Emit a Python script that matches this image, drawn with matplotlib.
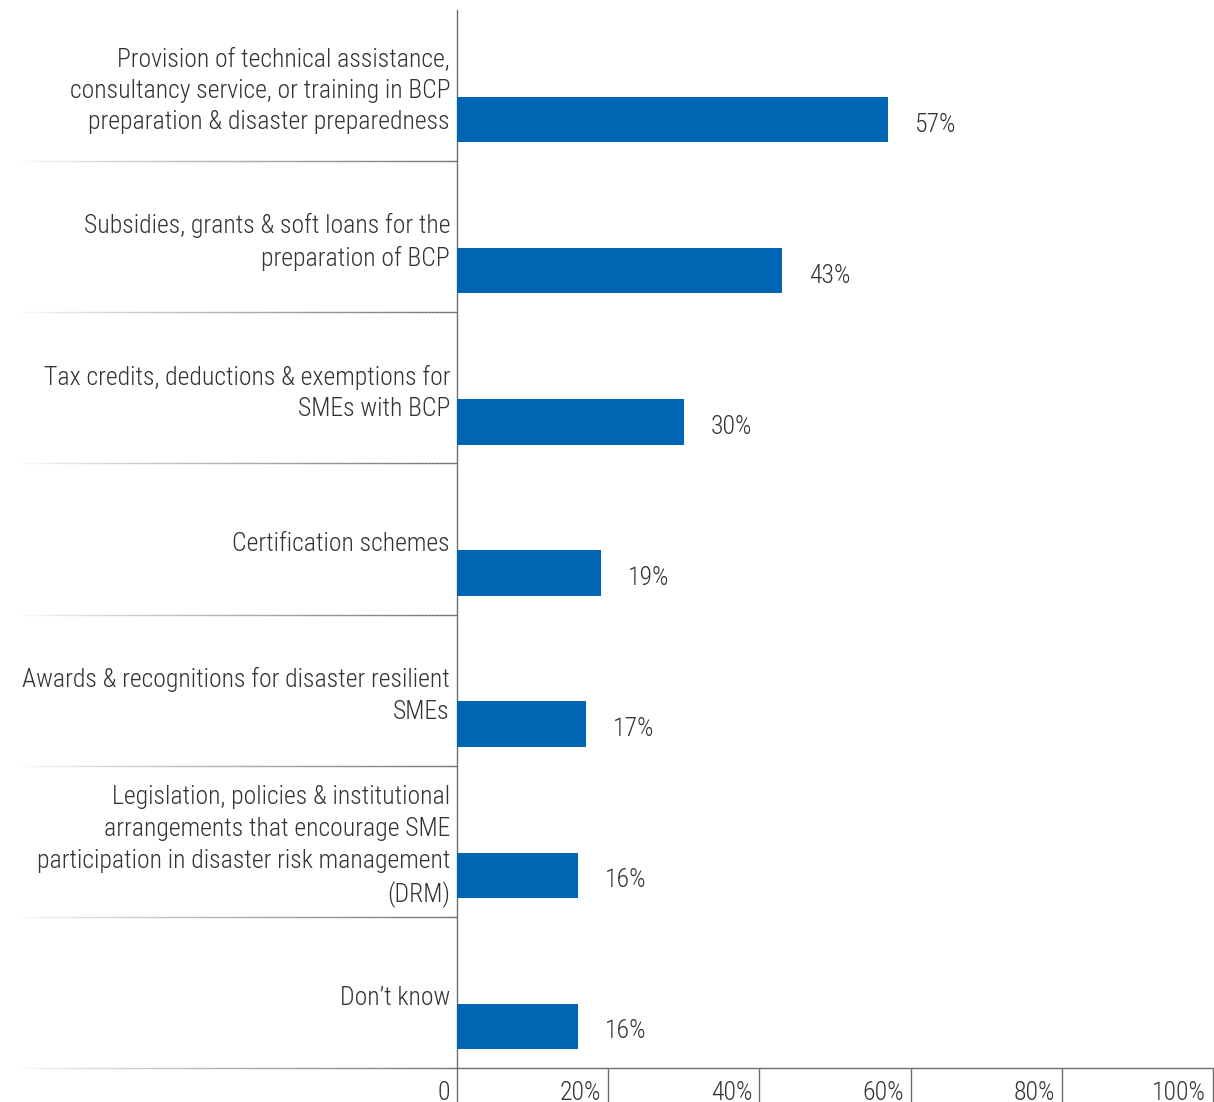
import matplotlib
matplotlib.use("Agg")
import matplotlib.pyplot as plt
from matplotlib import font_manager, transforms
from matplotlib.collections import LineCollection
import numpy as np

categories = [
    "Provision of technical assistance,\nconsultancy service, or training in BCP\npreparation & disaster preparedness",
    "Subsidies, grants & soft loans for the\npreparation of BCP",
    "Tax credits, deductions & exemptions for\nSMEs with BCP",
    "Certification schemes",
    "Awards & recognitions for disaster resilient\nSMEs",
    "Legislation, policies & institutional\narrangements that encourage SME\nparticipation in disaster risk management\n(DRM)",
    "Don\u2019t know",
]
values = [57, 43, 30, 19, 17, 16, 16]
tick_values = [0, 20, 40, 60, 80, 100]
tick_labels = ["0", "20%", "40%", "60%", "80%", "100%"]

avail = {f.name for f in font_manager.fontManager.ttflist}
family = "DejaVu Sans"
for cand in ["Roboto Condensed", "Liberation Sans Narrow", "Open Sans Condensed", "Roboto", "Lato"]:
    if cand in avail:
        family = cand
        break
plt.rcParams["font.family"] = [family, "DejaVu Sans"]

W, H, DPI = 1214, 1102, 100
fig = plt.figure(figsize=(W / DPI, H / DPI), dpi=DPI)
fig.patch.set_facecolor("white")

ax_left, ax_right, ax_top, ax_bottom = 457, 1213, 10, 1068
ax = fig.add_axes([ax_left / W, (H - ax_bottom) / H, (ax_right - ax_left) / W, (ax_bottom - ax_top) / H])

bar_color = "#0066b3"
text_color = "#333333"
line_color = "#6e6e6e"
fs = 18.5
fw = "light"

n = len(categories)
ypos = np.arange(n)
ax.barh(ypos + 0.725, values, height=0.30, color=bar_color, zorder=3)
ax.set_xlim(0, 100)
ax.set_ylim(n, 0)

for s in ["top", "right", "bottom"]:
    ax.spines[s].set_visible(False)
ax.spines["left"].set_color(line_color)
ax.spines["left"].set_linewidth(1.0)
ax.set_yticks([])
ax.set_xticks(tick_values)
ax.set_xticklabels([])
ax.tick_params(axis="x", direction="out", length=34 * 72 / DPI, width=1.0, color=line_color)

# category labels
for i, lab in enumerate(categories):
    ax.text(-7 * 100 / (ax_right - ax_left), i + 0.535, lab, ha="right", va="center",
            fontsize=fs, fontweight=fw, color=text_color, linespacing=1.4, clip_on=False)

# value labels
for i, v in enumerate(values):
    ax.annotate(f"{v}%", xy=(v, i + 0.725), xytext=(27 * 72 / DPI, -5 * 72 / DPI),
                textcoords="offset points", ha="left", va="center",
                fontsize=fs, fontweight=fw, color=text_color)

# tick labels
btrans = transforms.blended_transform_factory(ax.transData, ax.transAxes)
for v, lab in zip(tick_values, tick_labels):
    ax.annotate(lab, xy=(v, 0), xycoords=btrans, xytext=(-7 * 72 / DPI, -13 * 72 / DPI),
                textcoords="offset points", ha="right", va="top",
                fontsize=fs, fontweight=fw, color=text_color, annotation_clip=False)

# gradient separators
ftrans = transforms.blended_transform_factory(fig.transFigure, ax.transData)
x0, x1 = 15 / W, ax_left / W
nseg = 120
xs = np.linspace(x0, x1, nseg + 1)
base = np.array(matplotlib.colors.to_rgb(line_color))
for b in range(1, n + 1):
    segs = [[(xs[k], b), (xs[k + 1], b)] for k in range(nseg)]
    alphas = np.linspace(0.0, 1.0, nseg) ** 0.8
    cols = [(*base, a) for a in alphas]
    lc = LineCollection(segs, colors=cols, linewidths=1.0, transform=ftrans, clip_on=False)
    fig.add_artist(lc)
# bottom axis line across plot
ax.plot([0, 100], [n, n], color=line_color, lw=1.0, clip_on=False, zorder=4)

fig.savefig("out.png", dpi=DPI, facecolor="white")
